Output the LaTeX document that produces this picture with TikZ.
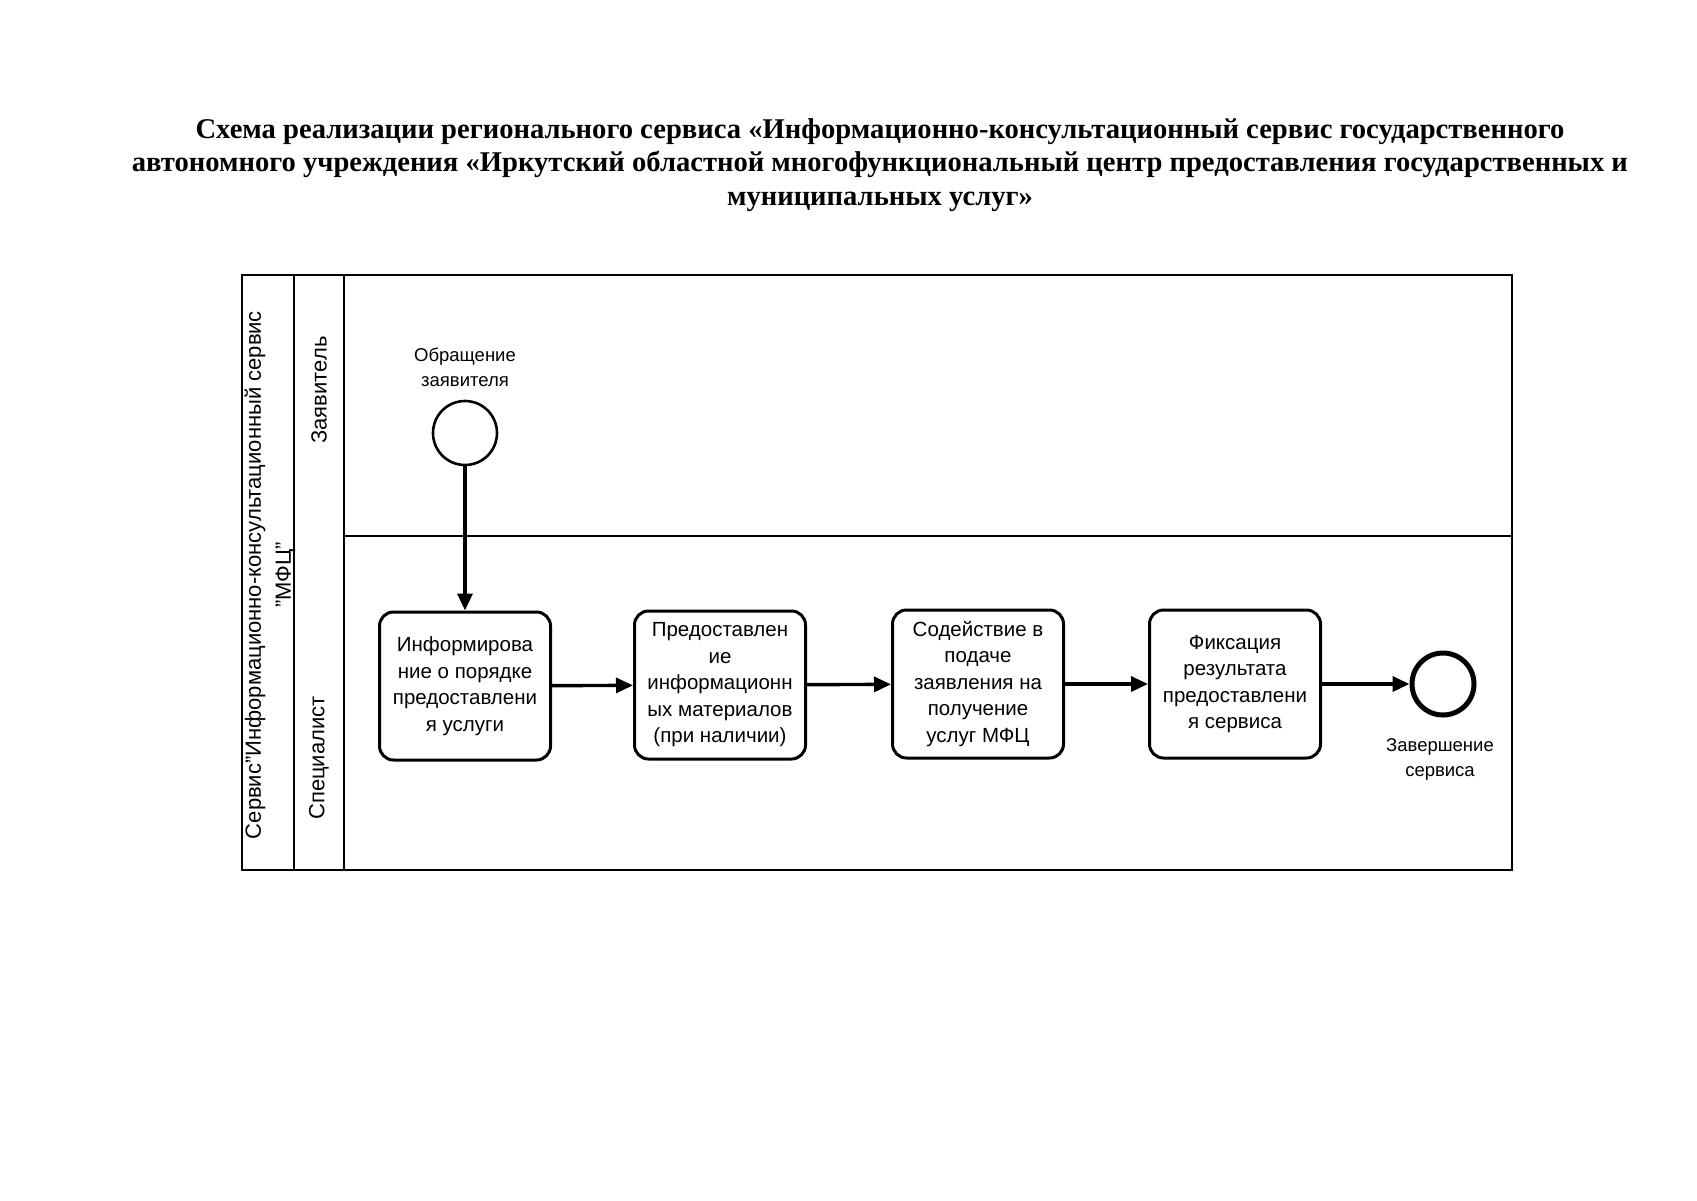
\documentclass[tikz,border=0pt]{standalone}
\usepackage{fontspec}
\setmainfont{Liberation Sans}
\newfontfamily\titlefont{Liberation Serif}
\usetikzlibrary{arrows.meta}
\begin{document}
\begin{tikzpicture}[x=1pt,y=-1pt,
  task/.style={draw, line width=3pt, rounded corners=14pt, minimum width=171pt, minimum height=148pt, align=center, font=\fontsize{20.5}{26.5}\selectfont, inner sep=3pt},
  flow/.style={line width=3.4pt, -{Triangle[length=17pt,width=15pt]}},
  lbl/.style={align=center, font=\fontsize{18.5}{25}\selectfont},
  lanetxt/.style={rotate=90, align=center, font=\fontsize{22}{30}\selectfont},
  lane/.style={line width=2.6pt}]
\useasboundingbox (0,0) rectangle (1697,1200);
\node[font=\titlefont\bfseries\fontsize{28.6}{33.5}\selectfont, align=center] (title) at (880,165)
 {Схема реализации регионального сервиса «Информационно-консультационный сервис государственного\\
  автономного учреждения «Иркутский областной многофункциональный центр предоставления государственных и\\
  муниципальных услуг»};
% pool and lanes
\coordinate (pA) at (242,275);
\coordinate (pB) at (1512,870);
\draw[lane] (pA) rectangle (pB);
\coordinate (v1t) at (294,275); \coordinate (v1b) at (294,870);
\coordinate (v2t) at (344,275); \coordinate (v2b) at (344,870);
\coordinate (hl) at (344,536); \coordinate (hr) at (1512,536);
\draw[lane] (v1t) -- (v1b);
\draw[lane] (v2t) -- (v2b);
\draw[lane] (hl) -- (hr);
\node[lanetxt] (pool) at (270,575) {Сервис"Информационно-консультационный сервис\\"МФЦ"};
\node[lanetxt] (lane1) at (319,390) {Заявитель};
\node[lanetxt] (lane2) at (319,758) {Специалист};
% events
\node[circle, draw, line width=2.6pt, minimum size=64pt, inner sep=0pt] (start) at (465,433) {};
\node[lbl] (startlbl) at (465,367) {Обращение\\заявителя};
\node[circle, draw, line width=5pt, minimum size=62pt, inner sep=0pt] (end) at (1443,684) {};
\node[lbl] (endlbl) at (1440,759) {Завершение\\сервиса};
% tasks
\node[task] (t1) at (465,686) {Информирова\\ние о порядке\\предоставлени\\я услуги};
\node[task] (t2) at (720,685) {Предоставлен\\ие\\информационн\\ых материалов\\(при наличии)};
\node[task] (t3) at (978,684) {Содействие в\\подаче\\заявления на\\получение\\услуг МФЦ};
\node[task] (t4) at (1235,684) {Фиксация\\результата\\предоставлени\\я сервиса};
% flows
\draw[flow] (start) -- (t1);
\draw[flow] (t1) -- (t2);
\draw[flow] (t2) -- (t3);
\draw[flow] (t3) -- (t4);
\draw[flow] (t4) -- (end);
\end{tikzpicture}
\end{document}
